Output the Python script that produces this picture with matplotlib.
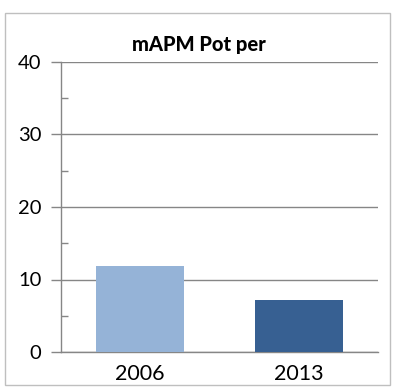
import matplotlib.pyplot as plt
from matplotlib.patches import Rectangle
from matplotlib.ticker import MultipleLocator

# Data
categories = ['2006', '2013']
values = [11.9, 7.2]
bar_colors = ['#95B3D7', '#376092']
title = 'mAPM Pot per'

plt.rcParams['font.family'] = ['Lato', 'DejaVu Sans']

fig = plt.figure(figsize=(3.93, 3.89), dpi=100)
ax = fig.add_axes([61 / 393, 1 - 352 / 389, (378 - 61) / 393, (352 - 62) / 389])

x = range(len(categories))
ax.bar(x, values, width=0.555, color=bar_colors, zorder=3)

ax.set_xlim(-0.5, 1.5)
ax.set_ylim(0, 40)
ax.set_xticks(list(x))
ax.set_xticklabels(categories, fontsize=15.5)
ax.yaxis.set_major_locator(MultipleLocator(10))
ax.yaxis.set_minor_locator(MultipleLocator(5))
ax.tick_params(axis='y', which='major', length=7, width=1, color='#868686',
               labelsize=14.5, pad=7, direction='out')
ax.tick_params(axis='y', which='minor', length=5, width=1, color='#868686',
               direction='in')
ax.tick_params(axis='x', length=0, pad=9)
ax.grid(axis='y', which='major', color='#868686', linewidth=1, zorder=0)

for side in ['top', 'right']:
    ax.spines[side].set_visible(False)
for side in ['left', 'bottom']:
    ax.spines[side].set_color('#868686')
    ax.spines[side].set_linewidth(1)

fig.text(199 / 393, 1 - 45 / 389, title, ha='center', va='center',
         fontsize=14.5, fontweight='black')

# outer chart border
fig.patches.append(Rectangle((5 / 393, 1 - 385 / 389), 385 / 393, 372 / 389,
                             transform=fig.transFigure, fill=False,
                             edgecolor='#BFBFBF', linewidth=1))

fig.savefig('out.png', dpi=100)
